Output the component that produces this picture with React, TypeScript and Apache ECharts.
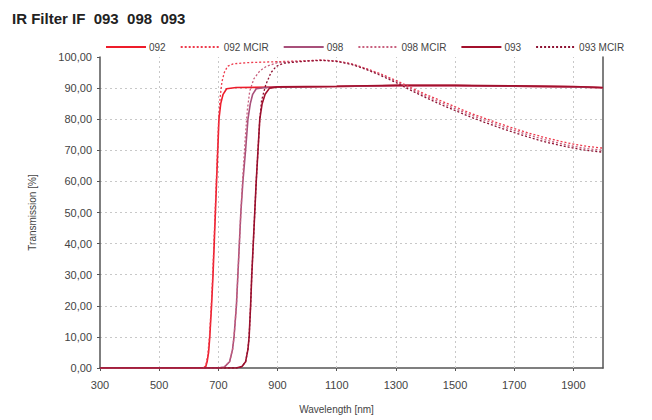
import React, { useEffect, useRef } from "react";
import * as echarts from "echarts";

const seriesNames = ["092", "092 MCIR", "098", "098 MCIR", "093", "093 MCIR"];

const wl092 = [300, 640, 656, 662, 667, 671, 677, 682, 686, 690, 694, 698, 702, 708, 716, 728, 760, 900, 1100, 1300, 1500, 1700, 1900, 2000];
const t092 = [0, 0, 0, 2, 5, 10, 20, 30, 40, 50, 60, 70, 80, 85, 88, 89.8, 90.2, 90.3, 90.5, 90.8, 90.8, 90.6, 90.4, 90.1];

const wl092m = [300, 650, 658, 664, 670, 676, 681, 685, 689, 693, 697, 701, 706, 712, 720, 731, 750, 800, 900, 1000, 1050, 1100, 1150, 1200, 1250, 1300, 1350, 1400, 1450, 1500, 1550, 1600, 1650, 1700, 1750, 1800, 1850, 1900, 1950, 2000];
const t092m = [0, 0, 1, 4, 10, 20, 30, 40, 50, 60, 70, 80, 87, 92, 95, 97, 97.8, 98.2, 98.5, 98.8, 99, 98.7, 97.8, 96.3, 94.5, 92.5, 90.2, 88, 86, 84, 82, 80.3, 78.6, 77, 75.5, 74.2, 73, 72, 71.2, 70.7];

const wl098 = [300, 700, 720, 738, 748, 753, 761, 766, 771, 776, 783, 792, 800, 808, 816, 828, 860, 900, 1100, 1300, 1500, 1700, 1900, 2000];
const t098 = [0, 0, 0.3, 2, 6, 10, 20, 30, 40, 50, 60, 70, 80, 85, 88, 89.8, 90.2, 90.3, 90.5, 90.8, 90.8, 90.6, 90.4, 90.1];

const wl098m = [300, 700, 720, 738, 748, 753, 761, 766, 771, 776, 783, 791, 798, 806, 820, 840, 862, 900, 1000, 1050, 1100, 1150, 1200, 1250, 1300, 1350, 1400, 1450, 1500, 1550, 1600, 1650, 1700, 1750, 1800, 1850, 1900, 1950, 2000];
const t098m = [0, 0, 0.3, 2, 6, 10, 20, 30, 40, 50, 62, 74, 83, 89, 93, 95.5, 97, 98.2, 98.8, 99, 98.7, 97.8, 96.2, 94.3, 92.2, 89.8, 87.5, 85.4, 83.4, 81.5, 79.7, 78, 76.4, 74.9, 73.5, 72.3, 71.3, 70.5, 70];

const wl093 = [300, 760, 780, 792, 800, 804, 809, 813, 818, 823, 828, 834, 840, 848, 858, 873, 900, 1100, 1300, 1500, 1700, 1900, 2000];
const t093 = [0, 0, 0.5, 2, 6, 10, 20, 30, 40, 50, 60, 70, 80, 85, 88, 90, 90.4, 90.6, 90.9, 90.9, 90.7, 90.5, 90.2];

const wl093m = [300, 760, 780, 792, 800, 804, 809, 813, 818, 823, 828, 834, 840, 846, 860, 878, 896, 920, 1000, 1050, 1100, 1150, 1200, 1250, 1300, 1350, 1400, 1450, 1500, 1550, 1600, 1650, 1700, 1750, 1800, 1850, 1900, 1950, 2000];
const t093m = [0, 0, 0.5, 2, 6, 10, 20, 30, 40, 50, 60, 70, 80, 86, 91, 95, 97, 98, 98.7, 98.9, 98.6, 97.6, 96, 94, 91.8, 89.3, 87, 84.8, 82.8, 80.8, 79, 77.3, 75.7, 74.2, 72.8, 71.7, 70.7, 69.9, 69.4];

const xTicks = [300, 500, 700, 900, 1100, 1300, 1500, 1700, 1900];
const xGrid = [500, 700, 900, 1100, 1300, 1500, 1700, 1900];

const wlSets = [wl092, wl092m, wl098, wl098m, wl093, wl093m];
const tSets = [t092, t092m, t098, t098m, t093, t093m];
const colors = ["#ee1c2a", "#ee3a4c", "#a8507a", "#c8607e", "#a3102c", "#8e1232"];
const dashed = [false, true, false, true, false, true];

export default function App() {
  const ref = useRef<HTMLDivElement>(null);
  useEffect(() => {
    if (!ref.current) return;
    const chart = echarts.init(ref.current, null, { renderer: "svg" });
    const series: any[] = seriesNames.map((name, i) => ({
      name,
      type: "line",
      showSymbol: false,
      symbol: "none",
      data: wlSets[i].map((x, j) => [x, tSets[i][j]]),
      lineStyle: {
        color: colors[i],
        width: dashed[i] ? 1.3 : 1.6,
        type: dashed[i] ? [2, 2] : "solid",
      },
      itemStyle: { color: colors[i] },
      z: dashed[i] ? 3 : 2,
    }));
    series[0].markLine = {
      silent: true,
      symbol: "none",
      label: { show: false },
      lineStyle: { color: "#c8c8c8", type: [2, 3], width: 1 },
      data: xGrid.map((v) => ({ xAxis: v })),
      z: 1,
    };
    chart.setOption({
      animation: false,
      backgroundColor: "#fff",
      title: {
        text: "IR Filter IF  093  098  093",
        left: 7,
        top: 6,
        textStyle: { fontFamily: "Liberation Sans", fontSize: 15, fontWeight: "bold", color: "#222" },
      },
      legend: {
        top: 37,
        left: 100,
        itemWidth: 40,
        itemHeight: 8,
        itemGap: 14,
        itemStyle: { opacity: 0 },
        textStyle: { fontFamily: "Liberation Sans", fontSize: 10, color: "#444", padding: [0, 0, 0, -2] },
        data: seriesNames,
      },
      grid: { left: 100, right: 49, top: 57, bottom: 52 },
      xAxis: {
        type: "value",
        min: 300,
        max: 2000,
        name: "Wavelength [nm]",
        nameLocation: "middle",
        nameGap: 36,
        nameTextStyle: { fontFamily: "Liberation Sans", fontSize: 10, color: "#444", padding: [0, 30, 0, 0] },
        axisLine: { lineStyle: { color: "#555", width: 1.5 } },
        axisTick: { show: true, length: 3, customValues: xTicks, lineStyle: { color: "#555" } },
        axisLabel: {
          customValues: xTicks,
          fontFamily: "Liberation Sans",
          fontSize: 11,
          color: "#444",
          margin: 11,
          formatter: (v: number) => String(v),
        },
        splitLine: { show: false },
      },
      yAxis: [
        {
          type: "value",
          min: 0,
          max: 100,
          interval: 10,
          name: "Transmission [%]",
          nameLocation: "middle",
          nameGap: 63,
          nameTextStyle: { fontFamily: "Liberation Sans", fontSize: 10, color: "#444" },
          axisLine: { show: true, lineStyle: { color: "#555", width: 1.5 } },
          axisTick: { show: true, length: 3, lineStyle: { color: "#555" } },
          axisLabel: {
            fontFamily: "Liberation Sans",
            fontSize: 11,
            color: "#444",
            margin: 8,
            formatter: (v: number) => v.toFixed(2).replace(".", ","),
          },
          splitLine: { show: true, showMinLine: false, showMaxLine: false, lineStyle: { color: "#c8c8c8", type: [2, 3] } },
        },
        {
          type: "value",
          min: 0,
          max: 100,
          position: "right",
          axisLine: { show: true, lineStyle: { color: "#555", width: 1.5 } },
          axisTick: { show: false },
          axisLabel: { show: false },
          splitLine: { show: false },
        },
      ],
      series,
    });
    return () => chart.dispose();
  }, []);
  return <div ref={ref} style={{ width: 652, height: 420, position: "absolute", left: 0, top: 0 }} />;
}
